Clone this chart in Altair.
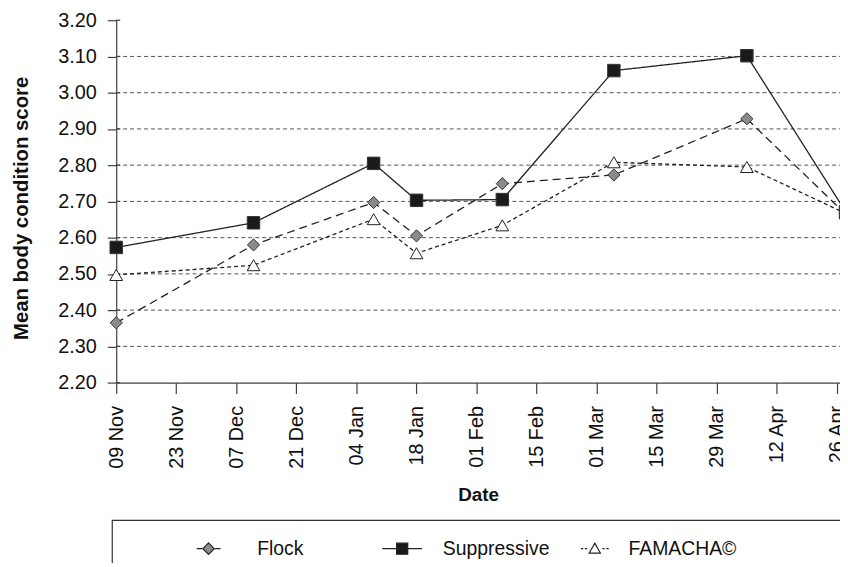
import altair as alt
import pandas as pd

# ---- data ----
series_names = ["Flock", "Suppressive", "FAMACHA©"]
sample_dates = ["2008-11-09", "2008-12-11", "2009-01-08", "2009-01-18",
                "2009-02-07", "2009-03-05", "2009-04-05", "2009-04-28"]
flock = [2.365, 2.580, 2.697, 2.605, 2.749, 2.773, 2.928, 2.665]
suppressive = [2.573, 2.641, 2.805, 2.703, 2.705, 3.061, 3.102, 2.672]
famacha = [2.497, 2.524, 2.651, 2.557, 2.634, 2.808, 2.795, 2.667]

tick_dates = ["2008-11-09", "2008-11-23", "2008-12-07", "2008-12-21",
              "2009-01-04", "2009-01-18", "2009-02-01", "2009-02-15",
              "2009-03-01", "2009-03-15", "2009-03-29", "2009-04-12",
              "2009-04-26"]
y_ticks = [2.2, 2.3, 2.4, 2.5, 2.6, 2.7, 2.8, 2.9, 3.0, 3.1, 3.2]
grid_values = [2.3, 2.4, 2.5, 2.6, 2.7, 2.8, 2.9, 3.0, 3.1]

rows = []
for name, vals in zip(series_names, [flock, suppressive, famacha]):
    for d, v in zip(sample_dates, vals):
        rows.append({"date": d, "value": v, "series": name})
df = pd.DataFrame(rows)


def dt(s, hours=0):
    y, m, d = (int(p) for p in s.split("-"))
    return alt.DateTime(year=y, month=m, date=d, hours=hours, utc=True)


FONT = "Liberation Sans"
W, H = 729, 365

xscale = alt.Scale(type="utc", domain=[dt("2008-11-09"), dt("2009-04-26", 17)], nice=False)
yscale = alt.Scale(domain=[2.2, 3.2], nice=False, zero=False)

xaxis = alt.Axis(values=[dt(s) for s in tick_dates],
                 labelExpr="utcFormat(datum.value, '%d %b')",
                 labelAngle=270, labelOverlap=False, labelFlush=False, labelPadding=12,
                 tickSize=11, grid=False, labelFontSize=20, labelColor="#111",
                 title="Date", titleFontSize=19, titleFontWeight="bold", titleColor="#111",
                 titleY=113, titleBaseline="middle",
                 domainColor="#404040", tickColor="#404040", domainWidth=1.2, tickWidth=1.2)
yaxis = alt.Axis(values=y_ticks, format=".2f", grid=False, tickSize=9, labelPadding=11,
                 labelFontSize=20, labelColor="#111", labelOverlap=False, labelFlush=False,
                 title="Mean body condition score", titleFontSize=20.5, titleFontWeight="bold",
                 titleColor="#111", titleX=-95, titleY=189, titleBaseline="middle",
                 domainColor="#404040", tickColor="#404040", domainWidth=1.2, tickWidth=1.2)

base = alt.Chart(df).encode(
    x=alt.X("date:T", scale=xscale, axis=xaxis),
    y=alt.Y("value:Q", scale=yscale, axis=yaxis),
)

grid = alt.Chart(pd.DataFrame({"value": grid_values})).mark_rule(
    color="#555555", strokeWidth=1, strokeDash=[4, 3]
).encode(y=alt.Y("value:Q", scale=yscale, axis=yaxis), x=alt.value(0), x2=alt.value(W))

inner_ticks = alt.Chart(pd.DataFrame({"value": y_ticks})).mark_rule(
    color="#404040", strokeWidth=1.2
).encode(y=alt.Y("value:Q", scale=yscale, axis=yaxis), x=alt.value(0), x2=alt.value(4))

lines = base.mark_line(strokeWidth=1.3, color="#222222", clip=False).encode(
    strokeDash=alt.StrokeDash("series:N", scale=alt.Scale(domain=series_names,
                              range=[[8, 5], [1, 0], [4, 3]]), legend=None)
)

points = base.mark_point(filled=True, opacity=1, strokeWidth=1, clip=False).encode(
    shape=alt.Shape("series:N", scale=alt.Scale(domain=series_names,
                    range=["diamond", "square", "triangle-up"]), legend=None),
    fill=alt.Fill("series:N", scale=alt.Scale(domain=series_names,
                  range=["#8a8a8a", "#1a1a1a", "#ffffff"]), legend=None),
    stroke=alt.Stroke("series:N", scale=alt.Scale(domain=series_names,
                      range=["#333333", "#333333", "#222222"]), legend=None),
    size=alt.Size("series:N", scale=alt.Scale(domain=series_names,
                  range=[150, 165, 185]), legend=None),
)

# legend symbols: marker with line segments, as in the reference legend
legend_paths = [
    "M-1,-1M1,1M-1,0L-0.73,0M-0.07,0L0.2,0M-0.4,-0.29L-0.11,0L-0.4,0.29L-0.69,0Z",
    "M-1,-1M1,1M-1,0L1,0M-0.28,-0.28L0.28,-0.28L0.28,0.28L-0.28,0.28Z",
    "M-1,-1M1,1M-0.35,0L-0.23,0M-0.15,0L-0.03,0M0.73,0L0.85,0M0.93,0L1.05,0"
    "M0.35,-0.28L0.63,0.22L0.07,0.22Z",
]
leg = alt.Legend(title=None, orient="none", legendX=80, legendY=511, direction="horizontal",
                 columns=3, gridAlign="all", columnPadding=14, symbolSize=1600,
                 symbolStrokeWidth=1.2, symbolOpacity=1, labelOffset=20, labelFont=FONT,
                 labelFontSize=19.5, labelColor="#111", padding=0)
legend_layer = alt.Chart(df).transform_filter("datum.value < 0").mark_point(
    filled=True, opacity=1
).encode(
    shape=alt.Shape("series:N", scale=alt.Scale(domain=series_names, range=legend_paths), legend=leg),
    fill=alt.Fill("series:N", scale=alt.Scale(domain=series_names,
                  range=["#8a8a8a", "#1a1a1a", "#ffffff"]), legend=leg),
    stroke=alt.Stroke("series:N", scale=alt.Scale(domain=series_names,
                      range=["#222222", "#222222", "#222222"]), legend=leg),
)

legend_box = alt.Chart(pd.DataFrame({"a": [0]})).mark_rect(
    fill=None, stroke="#333333", strokeWidth=1.2
).encode(x=alt.value(-4), x2=alt.value(800), y=alt.value(503.7), y2=alt.value(640))

chart = alt.layer(grid, inner_ticks, lines, points, legend_layer, legend_box).resolve_scale(
    shape="independent", fill="independent", stroke="independent"
).properties(
    width=W, height=H,
    autosize=alt.AutoSizeParams(type="none"),
    padding={"left": 109, "top": 10.3, "right": 0, "bottom": 179.7},
).configure(font=FONT).configure_view(stroke=None)

chart.save("out.html", embed_options={"renderer": "svg", "actions": False})
